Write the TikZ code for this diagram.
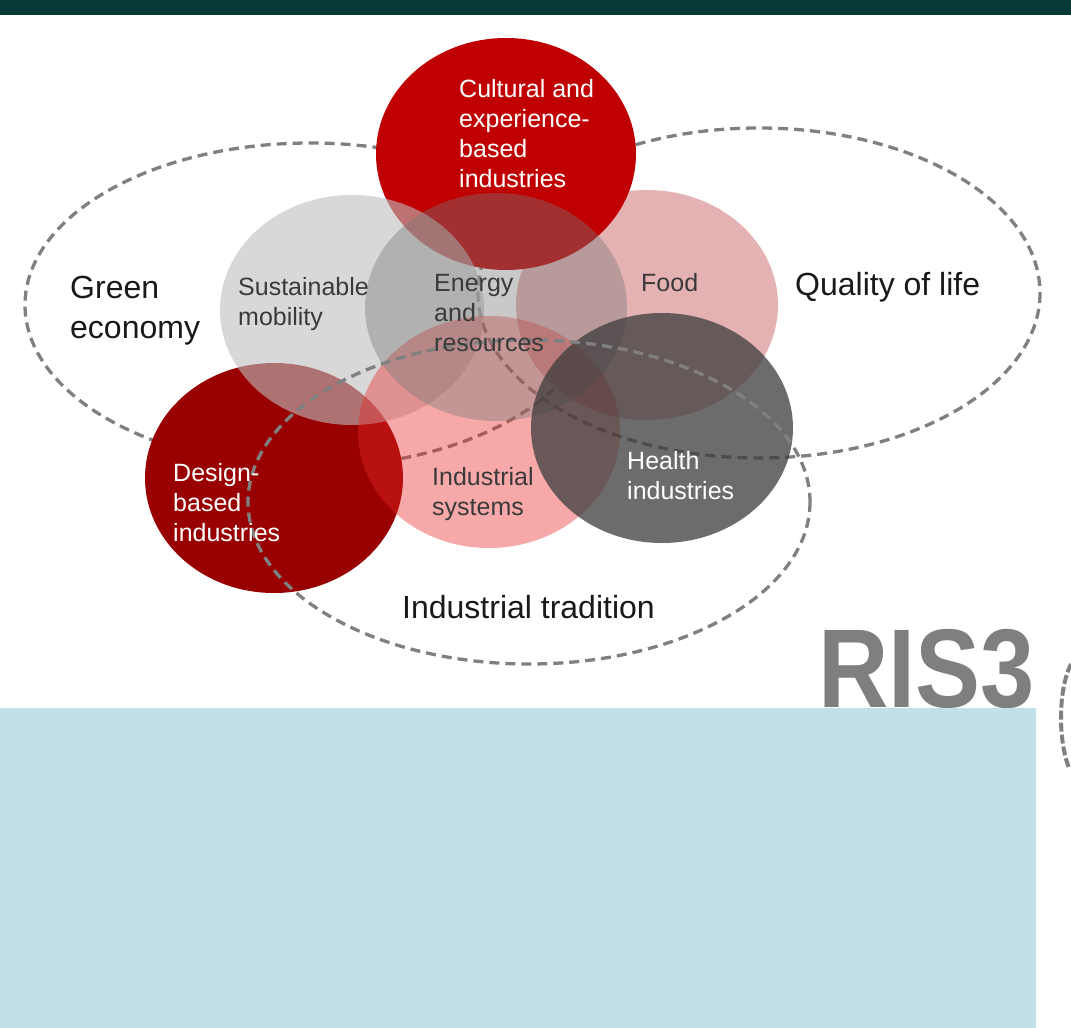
\documentclass[tikz,border=0pt]{standalone}
\usepackage{fontspec}
\setmainfont{Liberation Sans}
\definecolor{barteal}{RGB}{8,59,56}
\definecolor{culturered}{RGB}{192,0,0}
\definecolor{designred}{RGB}{153,0,0}
\definecolor{foodpink}{RGB}{228,178,178}
\definecolor{mobgray}{RGB}{191,191,191}
\definecolor{syspink}{RGB}{235,40,40}
\definecolor{energygray}{RGB}{120,120,120}
\definecolor{healthgray}{RGB}{60,60,60}
\definecolor{dashgray}{RGB}{128,128,128}
\definecolor{labelgray}{RGB}{58,58,58}
\definecolor{risgray}{RGB}{127,127,127}
\definecolor{panelblue}{RGB}{193,225,230}
\begin{document}
\begin{tikzpicture}[x=1pt,y=-1pt,
    area/.style={draw=dashgray,line width=3.3pt,dash pattern=on 10pt off 6pt},
    small/.style={anchor=west,align=left,inner sep=0pt,text=labelgray,font=\fontsize{25}{30}\selectfont},
    big/.style={anchor=west,align=left,inner sep=0pt,text=black!90,font=\fontsize{32}{40}\selectfont}]
    \useasboundingbox (0,0) rectangle (1071,1028);
    \fill[white] (0,0) rectangle (1071,1028);
    \fill[barteal] (0,0) rectangle (1071,15);
    \draw[area] (310,305) ellipse [x radius=285,y radius=162];
    \draw[area] (759,293) ellipse [x radius=281,y radius=165];
    \fill[foodpink] (647,305) ellipse [x radius=131,y radius=115];
    \fill[culturered] (506,154) ellipse [x radius=130,y radius=116];
    \fill[designred] (274,478) ellipse [x radius=129,y radius=115];
    \fill[mobgray,opacity=.6] (352,310) ellipse [x radius=132,y radius=115];
    \fill[syspink,opacity=.4] (489,432) ellipse [x radius=131,y radius=116];
    \fill[energygray,opacity=.4] (496,307) ellipse [x radius=131,y radius=114];
    \fill[healthgray,opacity=.75] (662,428) ellipse [x radius=131,y radius=115];
    \draw[area] (529,502) ellipse [x radius=281,y radius=162];
    \node[small,text=white] (cult) at (459,134) {Cultural and\\experience-\\based\\industries};
    \node[big] (green) at (70,311) {Green\\economy};
    \node[small] (mob) at (238,304) {Sustainable\\mobility};
    \node[small] (energy) at (434,313) {Energy\\and\\resources};
    \node[small] (food) at (641,283) {Food};
    \node[big] (qol) at (795,287) {Quality of life};
    \node[small,text=white] (design) at (173,503) {Design-\\based\\industries};
    \node[small] (sys) at (432,494) {Industrial\\systems};
    \node[small,text=white] (health) at (627,476) {Health\\industries};
    \node[big] (trad) at (402,607) {Industrial tradition};
    \node[anchor=base west,inner sep=0pt,text=risgray,font=\fontsize{112}{112}\selectfont\bfseries] (ris) at (818,707) {\scalebox{0.87}[1]{RIS3}};
    \fill[panelblue] (0,708) rectangle (1036,1028);
    \draw[dashgray,line width=4pt,dash pattern=on 9pt off 3pt] (1071,664) .. controls (1058,690) and (1058,740) .. (1069,768);
\end{tikzpicture}
\end{document}
